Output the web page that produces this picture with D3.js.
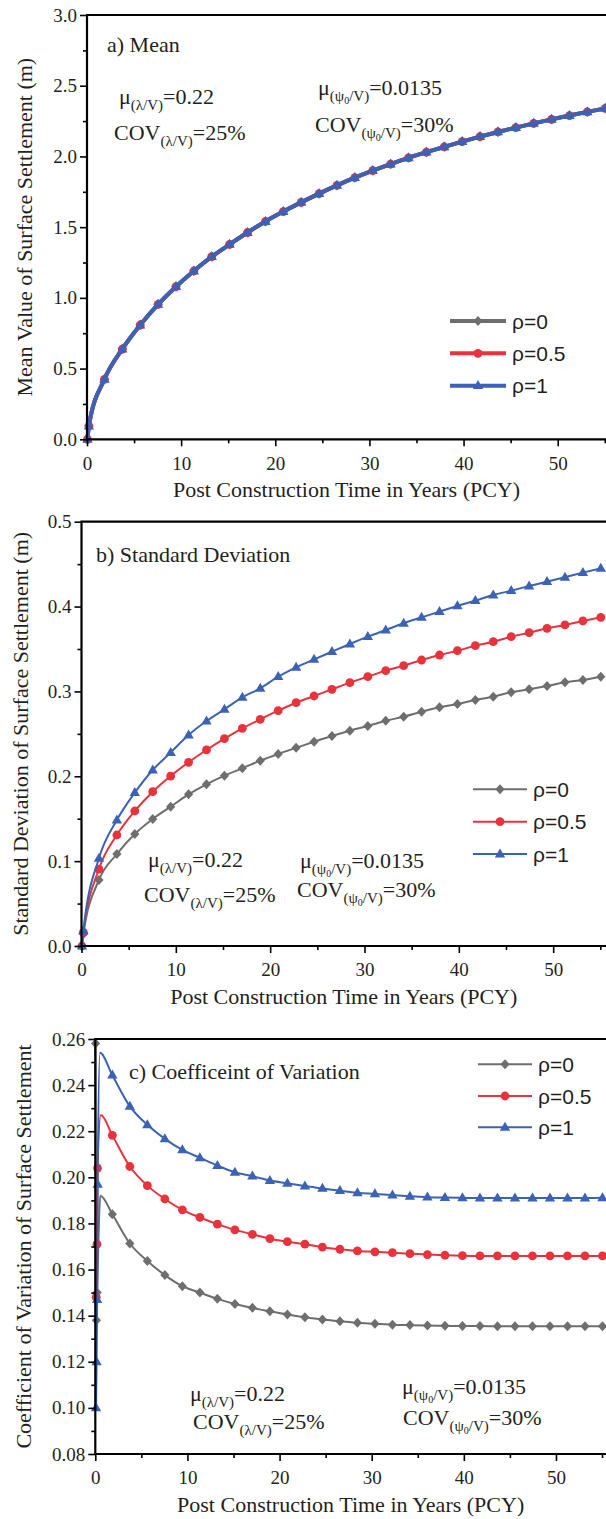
<!DOCTYPE html>
<html><head><meta charset="utf-8">
<script src="https://cdn.jsdelivr.net/npm/d3@7"></script>
<style>body{margin:0;background:#fff}svg{display:block}</style>
</head><body><svg id="chart" width="606" height="1519"></svg>
<script>
// ---------------- DATA ----------------
const seriesNames = ["ρ=0", "ρ=0.5", "ρ=1"];
const years = [1.85, 3.75, 5.65, 7.55, 9.45, 11.35, 13.25, 15.15, 17.05, 18.95,
  20.85, 22.75, 24.65, 26.55, 28.45, 30.35, 32.25, 34.15, 36.05, 37.95,
  39.85, 41.75, 43.65, 45.55, 47.45, 49.35, 51.25, 53.15, 55.05];
const xTicksMajor = [0, 10, 20, 30, 40, 50];
const xTicksMinor = [5, 15, 25, 35, 45, 55];

// a) Mean
const meanEarlyT = [0.05, 0.2];
const meanRho0Early = [0.0, 0.094];
const meanRho05Early = [0.0, 0.094];
const meanRho1Early = [0.0, 0.094];
const meanRho0 = [0.424, 0.638, 0.808, 0.954, 1.079, 1.190, 1.291, 1.378, 1.462, 1.540,
  1.610, 1.675, 1.737, 1.795, 1.850, 1.900, 1.946, 1.990, 2.030, 2.068,
  2.105, 2.140, 2.173, 2.204, 2.234, 2.262, 2.289, 2.315, 2.340];
const meanRho05 = [0.424, 0.638, 0.808, 0.954, 1.079, 1.190, 1.291, 1.378, 1.462, 1.540,
  1.610, 1.675, 1.737, 1.795, 1.850, 1.900, 1.946, 1.990, 2.030, 2.068,
  2.105, 2.140, 2.173, 2.204, 2.234, 2.262, 2.289, 2.315, 2.340];
const meanRho1 = [0.424, 0.638, 0.808, 0.954, 1.079, 1.190, 1.291, 1.378, 1.462, 1.540,
  1.610, 1.675, 1.737, 1.795, 1.850, 1.900, 1.946, 1.990, 2.030, 2.068,
  2.105, 2.140, 2.173, 2.204, 2.234, 2.262, 2.289, 2.315, 2.340];
const meanYTicks = [0, 0.5, 1.0, 1.5, 2.0, 2.5, 3.0];
const meanYMinor = [0.25, 0.75, 1.25, 1.75, 2.25, 2.75];

// b) Standard deviation
const sdEarlyT = [0.05, 0.2];
const sdRho0Early = [0.0, 0.014];
const sdRho05Early = [0.0, 0.016];
const sdRho1Early = [0.0, 0.018];
const sdRho0 = [0.0778, 0.1084, 0.1320, 0.1497, 0.1642, 0.1787, 0.1905, 0.2007, 0.2094, 0.2184,
  0.2263, 0.2335, 0.2407, 0.2475, 0.2537, 0.2593, 0.2655, 0.2702, 0.2761, 0.2813,
  0.2852, 0.2899, 0.2938, 0.2990, 0.3025, 0.3064, 0.3107, 0.3135, 0.3174];
const sdRho05 = [0.0907, 0.1308, 0.1591, 0.1818, 0.2003, 0.2165, 0.2310, 0.2443, 0.2565, 0.2671,
  0.2773, 0.2867, 0.2946, 0.3025, 0.3103, 0.3174, 0.3245, 0.3303, 0.3370, 0.3429,
  0.3480, 0.3539, 0.3586, 0.3645, 0.3692, 0.3744, 0.3783, 0.3830, 0.3873];
const sdRho1 = [0.1033, 0.1485, 0.1807, 0.2074, 0.2280, 0.2486, 0.2651, 0.2789, 0.2930, 0.3037,
  0.3174, 0.3284, 0.3378, 0.3468, 0.3559, 0.3645, 0.3724, 0.3803, 0.3873, 0.3940,
  0.4007, 0.4069, 0.4136, 0.4187, 0.4242, 0.4293, 0.4345, 0.4400, 0.4451];
const sdYTicks = [0, 0.1, 0.2, 0.3, 0.4, 0.5];
const sdYMinor = [0.05, 0.15, 0.25, 0.35, 0.45];

// c) Coefficient of variation
const covRho0EarlyT = [0.03, 0.12, 0.2];
const covRho0Early = [0.258, 0.138, 0.150];
const covRho05EarlyT = [0.1, 0.18, 0.24];
const covRho05Early = [0.148, 0.171, 0.204];
const covRho1EarlyT = [0.08, 0.14, 0.2, 0.26];
const covRho1Early = [0.100, 0.120, 0.147, 0.197];
const covPeakT = [0.55, 0.6, 0.5];
const covPeak = [0.192, 0.227, 0.254];
const covRho0 = [0.1840, 0.1713, 0.1637, 0.1576, 0.1528, 0.1500, 0.1473, 0.1451, 0.1434, 0.1419,
  0.1405, 0.1393, 0.1383, 0.1376, 0.1369, 0.1365, 0.1361, 0.1359, 0.1357, 0.1356,
  0.1355, 0.1355, 0.1354, 0.1354, 0.1354, 0.1354, 0.1354, 0.1354, 0.1354];
const covRho05 = [0.2182, 0.2047, 0.1964, 0.1906, 0.1859, 0.1826, 0.1797, 0.1772, 0.1753, 0.1734,
  0.1721, 0.1710, 0.1697, 0.1688, 0.1681, 0.1677, 0.1673, 0.1669, 0.1665, 0.1662,
  0.1660, 0.1659, 0.1659, 0.1659, 0.1659, 0.1659, 0.1659, 0.1659, 0.1659];
const covRho1 = [0.2443, 0.2308, 0.2228, 0.2167, 0.2119, 0.2085, 0.2051, 0.2022, 0.2005, 0.1986,
  0.1974, 0.1962, 0.1952, 0.1942, 0.1933, 0.1928, 0.1923, 0.1918, 0.1914, 0.1912,
  0.1911, 0.1910, 0.1910, 0.1910, 0.1910, 0.1910, 0.1910, 0.1910, 0.1911];
const covYTicks = [0.08, 0.10, 0.12, 0.14, 0.16, 0.18, 0.20, 0.22, 0.24, 0.26];
const covYMinor = [0.09, 0.11, 0.13, 0.15, 0.17, 0.19, 0.21, 0.23, 0.25];

// ---------------- STYLE ----------------
const colors = ["#6e6e6e", "#e8323c", "#3b62b4"];
const shapes = ["diamond", "circle", "triangle"];
const SERIF = "'Liberation Serif','Times New Roman',serif";
const SANS = "'Liberation Sans',Arial,sans-serif";
const INK = "#231f20";

const svg = d3.select("#chart");

function markerPath(shape, s) {
  if (shape === "diamond") return `M0,${-5*s}L${4.6*s},0L0,${5*s}L${-4.6*s},0Z`;
  if (shape === "triangle") return `M0,${-5.6*s}L${5.2*s},${3.4*s}L${-5.2*s},${3.4*s}Z`;
  const r = 4.4*s;
  return `M${r},0A${r},${r} 0 1,1 ${-r},0A${r},${r} 0 1,1 ${r},0Z`;
}

function annot(g, x, y, mainTxt, subParts, rest, fs) {
  const t = g.append("text").attr("x", x).attr("y", y)
    .attr("font-family", SERIF).attr("font-size", fs).attr("fill", INK);
  t.append("tspan").text(mainTxt);
  let level = 0;
  subParts.forEach(([txt, lv]) => {
    const dy = (lv - level) * (lv === 2 || level === 2 ? 3 : 6);
    t.append("tspan").attr("dy", dy).attr("font-size", lv === 2 ? 10 : 15).text(txt);
    level = lv;
  });
  const back = level === 2 ? -9 : -6;
  t.append("tspan").attr("dy", back).attr("font-size", fs).text(rest);
}

function drawPanel(cfg) {
  const g = svg.append("g");
  const x = d3.scaleLinear().domain(cfg.xDomain).range([cfg.left, cfg.right]);
  const y = d3.scaleLinear().domain(cfg.yDomain).range([cfg.bottom, cfg.top]);

  // series
  cfg.series.forEach((s, i) => {
    const pts = s.t.map((t, j) => ({t, v: s.v[j], m: s.m[j]}));
    const line = d3.line().x(d => x(d.t)).y(d => y(d.v)).curve(d3.curveMonotoneX);
    g.append("path").datum(pts).attr("d", line).attr("fill", "none")
      .attr("stroke", colors[i]).attr("stroke-width", cfg.lw).attr("stroke-linejoin", "round");
    g.selectAll(null).data(pts.filter(d => d.m)).enter().append("path")
      .attr("transform", d => `translate(${x(d.t)},${y(d.v)})`)
      .attr("d", markerPath(shapes[i], cfg.ms)).attr("fill", colors[i]);
  });

  // axes
  const axStyle = sel => {
    sel.select(".domain").remove();
    sel.selectAll(".tick line").attr("stroke", "#000").attr("stroke-width", 1.6);
    sel.selectAll(".tick text").attr("font-family", SERIF).attr("font-size", cfg.tfs).attr("fill", INK);
  };
  g.append("g").attr("transform", `translate(0,${cfg.bottom})`)
    .call(d3.axisBottom(x).tickValues(xTicksMajor).tickSize(7).tickFormat(d3.format("d")))
    .call(axStyle)
    .call(s => s.selectAll(".tick text").attr("y", 17).attr("dy", "0.71em"));
  g.append("g").attr("transform", `translate(0,${cfg.bottom})`)
    .call(d3.axisBottom(x).tickValues(xTicksMinor).tickSize(4).tickFormat(""))
    .call(axStyle);
  g.append("g").attr("transform", `translate(${cfg.left},0)`)
    .call(d3.axisLeft(y).tickValues(cfg.yTicks).tickSize(7).tickPadding(3).tickFormat(d3.format(cfg.yFmt)))
    .call(axStyle);
  g.append("g").attr("transform", `translate(${cfg.left},0)`)
    .call(d3.axisLeft(y).tickValues(cfg.yMinor).tickSize(4).tickFormat(""))
    .call(axStyle);

  // frame
  g.append("path")
    .attr("d", `M${cfg.right + 2},${cfg.top}H${cfg.left}V${cfg.bottom}H${cfg.right + 2}`)
    .attr("fill", "none").attr("stroke", "#000").attr("stroke-width", 2.2);

  // titles
  g.append("text").attr("x", (cfg.left + 606) / 2 + cfg.xtOff).attr("y", cfg.bottom + 57.5)
    .attr("text-anchor", "middle").attr("font-family", SERIF).attr("font-size", 22).attr("fill", INK)
    .text("Post Construction Time in Years (PCY)");
  g.append("text")
    .attr("transform", `translate(${cfg.ytX},${(cfg.top + cfg.bottom) / 2}) rotate(-90)`)
    .attr("text-anchor", "middle").attr("font-family", SERIF).attr("font-size", 22).attr("fill", INK)
    .text(cfg.yTitle);
  g.append("text").attr("x", cfg.label[0]).attr("y", cfg.label[1])
    .attr("font-family", SERIF).attr("font-size", 22).attr("fill", INK).text(cfg.label[2]);

  // annotations
  const A = cfg.ann;
  annot(g, A[0][0], A[0][1], "μ", [["(λ/V)", 1]], "=0.22", 22);
  annot(g, A[1][0], A[1][1], "COV", [["(λ/V)", 1]], "=25%", 22);
  annot(g, A[2][0], A[2][1], "μ", [["(ψ", 1], ["0", 2], ["/V)", 1]], "=0.0135", 22);
  annot(g, A[3][0], A[3][1], "COV", [["(ψ", 1], ["0", 2], ["/V)", 1]], "=30%", 22);

  // legend
  const L = cfg.legend;
  seriesNames.forEach((name, i) => {
    const yy = L.y[i];
    g.append("line").attr("x1", L.x1).attr("x2", L.x2).attr("y1", yy).attr("y2", yy)
      .attr("stroke", colors[i]).attr("stroke-width", cfg.legLw);
    g.append("path").attr("transform", `translate(${(L.x1 + L.x2) / 2},${yy})`)
      .attr("d", markerPath(shapes[i], cfg.ms)).attr("fill", colors[i]);
    g.append("text").attr("x", L.tx).attr("y", yy).attr("dy", "0.36em")
      .attr("font-family", SANS).attr("font-size", 21).attr("fill", INK).text(name);
  });
}

function build(earlyT, early, main, peakT, peak) {
  const t = [], v = [], m = [];
  earlyT.forEach((tt, j) => { t.push(tt); v.push(early[j]); m.push(true); });
  if (peakT !== undefined) { t.push(peakT); v.push(peak); m.push(false); }
  years.forEach((tt, j) => { t.push(tt); v.push(main[j]); m.push(true); });
  return {t, v, m};
}

drawPanel({
  left: 87, right: 606, top: 15, bottom: 439.3, xDomain: [0, 55.13], yDomain: [0, 3],
  yTicks: meanYTicks, yMinor: meanYMinor, yFmt: ".1f", lw: 4, legLw: 4, ms: 1.0, tfs: 19,
  xtOff: 0, ytX: 32, yTitle: "Mean Value of Surface Settlement (m)",
  label: [107, 52, "a) Mean"],
  ann: [[119, 104], [114, 140], [318, 95], [315, 132]],
  legend: {x1: 450, x2: 506, y: [321, 353.3, 385.7], tx: 512},
  series: [
    build(meanEarlyT, meanRho0Early, meanRho0),
    build(meanEarlyT, meanRho05Early, meanRho05),
    build(meanEarlyT, meanRho1Early, meanRho1)
  ]
});

drawPanel({
  left: 81.5, right: 606, top: 521.7, bottom: 946, xDomain: [0, 55.6], yDomain: [0, 0.5],
  yTicks: sdYTicks, yMinor: sdYMinor, yFmt: ".1f", lw: 2, legLw: 2, ms: 1.0, tfs: 19,
  xtOff: 0, ytX: 28, yTitle: "Standard Deviation of Surface Settlement (m)",
  label: [96, 561.5, "b) Standard Deviation"],
  ann: [[148, 867], [144, 902], [300, 868], [297, 897]],
  legend: {x1: 473, x2: 527, y: [789.3, 821.7, 854], tx: 533},
  series: [
    build(sdEarlyT, sdRho0Early, sdRho0),
    build(sdEarlyT, sdRho05Early, sdRho05),
    build(sdEarlyT, sdRho1Early, sdRho1)
  ]
});

drawPanel({
  left: 95.3, right: 606, top: 1039, bottom: 1454, xDomain: [0, 55.43], yDomain: [0.08, 0.26],
  yTicks: covYTicks, yMinor: covYMinor, yFmt: ".2f", lw: 2, legLw: 2, ms: 1.0, tfs: 19,
  xtOff: 0, ytX: 31, yTitle: "Coefficient of Variation of Surface Settlement",
  label: [129, 1079, "c) Coefficeint of Variation"],
  ann: [[190, 1400.5], [193, 1429], [402, 1393.5], [403, 1425]],
  legend: {x1: 478, x2: 532, y: [1064.3, 1096, 1127.3], tx: 538},
  series: [
    build(covRho0EarlyT, covRho0Early, covRho0, covPeakT[0], covPeak[0]),
    build(covRho05EarlyT, covRho05Early, covRho05, covPeakT[1], covPeak[1]),
    build(covRho1EarlyT, covRho1Early, covRho1, covPeakT[2], covPeak[2])
  ]
});
</script></body></html>
